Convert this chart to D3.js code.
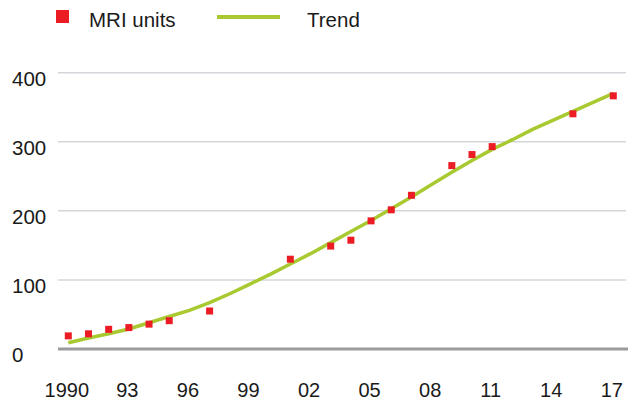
<!DOCTYPE html>
<html>
<head>
<meta charset="utf-8">
<script src="https://cdn.jsdelivr.net/npm/d3@7"></script>
<style>
  html, body { margin: 0; padding: 0; background: #fff; }
  svg { display: block; font-family: "Liberation Sans", Arial, Helvetica, sans-serif; }
</style>
</head>
<body>
<svg id="chart" width="636" height="403"></svg>
<script>
// MRI units installed per year, with fitted trend
const unitYears  = [1990, 1991, 1992, 1993, 1994, 1995, 1997, 2001, 2003, 2004, 2005, 2006, 2007, 2009, 2010, 2011, 2015, 2017];
const unitValues = [19, 22, 28.5, 31, 36, 41, 55, 130, 149, 157.5, 185.5, 201.5, 222.5, 265.5, 281.5, 293, 340.5, 366.5];

const trendYears  = [1990, 1991, 1992, 1993, 1994, 1995, 1996, 1997, 1998, 1999, 2000, 2001, 2002, 2003,
                     2004, 2005, 2006, 2007, 2008, 2009, 2010, 2011, 2012, 2013, 2014, 2015, 2016, 2017];
const trendValues = [9, 16, 22, 29, 38, 47, 56, 67, 80, 94, 108, 123, 138, 154,
                     170, 186, 203, 220, 238, 256, 273, 289, 303, 318, 331, 344, 357, 370];

const xTickYears  = [1990, 1993, 1996, 1999, 2002, 2005, 2008, 2011, 2014, 2017];
const xTickLabels = ["1990", "93", "96", "99", "02", "05", "08", "11", "14", "17"];
const yTicks      = [0, 100, 200, 300, 400];

const legendLabels = ["MRI units", "Trend"];

const RED = "#ec1c24";
const GREEN = "#a8c930";

const svg = d3.select("#chart");

const x = d3.scaleLinear().domain([1990, 2017]).range([68.3, 613.3]);
const y = d3.scaleLinear().domain([0, 400]).range([349, 72.7]);

// horizontal gridlines
svg.append("g")
  .selectAll("line")
  .data(yTicks.filter(d => d > 0))
  .join("line")
  .attr("x1", 58).attr("x2", 626)
  .attr("y1", d => y(d)).attr("y2", d => y(d))
  .attr("stroke", "#d3d6da")
  .attr("stroke-width", 1.5);

// baseline at zero
svg.append("line")
  .attr("x1", 58).attr("x2", 628)
  .attr("y1", y(0)).attr("y2", y(0))
  .attr("stroke", "#9b9b9e")
  .attr("stroke-width", 3);

// y axis labels (left-aligned)
const yAxis = d3.axisLeft(y).tickValues(yTicks).tickSize(0).tickPadding(0);
const gy = svg.append("g").attr("transform", "translate(12,0)").call(yAxis);
gy.select(".domain").remove();
gy.selectAll("text")
  .attr("text-anchor", "start")
  .attr("x", 0)
  .attr("dy", "0.62em")
  .attr("font-size", 20.5)
  .attr("font-family", "\"Liberation Sans\", Arial, sans-serif")
  .attr("fill", "#1a1a1a");

// x axis labels
const xAxis = d3.axisBottom(x).tickValues(xTickYears)
  .tickFormat((d, i) => xTickLabels[i]).tickSize(0).tickPadding(0);
const gx = svg.append("g").attr("transform", "translate(-2,383)").call(xAxis);
gx.select(".domain").remove();
gx.selectAll("text")
  .attr("dy", "0.72em")
  .attr("y", 0)
  .attr("font-size", 20)
  .attr("font-family", "\"Liberation Sans\", Arial, sans-serif")
  .attr("fill", "#1a1a1a");

// trend line
const line = d3.line()
  .x((d, i) => x(trendYears[i]))
  .y(d => y(d));
svg.append("path")
  .datum(trendValues)
  .attr("d", line)
  .attr("fill", "none")
  .attr("stroke", GREEN)
  .attr("stroke-width", 3.5)
  .attr("stroke-linejoin", "round");

// data points
const s = 7;
svg.append("g")
  .selectAll("rect")
  .data(unitValues)
  .join("rect")
  .attr("x", (d, i) => x(unitYears[i]) - s / 2)
  .attr("y", d => y(d) - s / 2)
  .attr("width", s)
  .attr("height", s)
  .attr("fill", RED);

// legend
const legend = svg.append("g");
legend.append("rect")
  .attr("x", 56).attr("y", 10).attr("width", 13).attr("height", 13)
  .attr("fill", RED);
legend.append("text")
  .attr("x", 89).attr("y", 27)
  .attr("font-size", 20.5)
  .attr("fill", "#1a1a1a")
  .text(legendLabels[0]);
legend.append("line")
  .attr("x1", 217).attr("x2", 280)
  .attr("y1", 17).attr("y2", 17)
  .attr("stroke", GREEN)
  .attr("stroke-width", 4);
legend.append("text")
  .attr("x", 307).attr("y", 27)
  .attr("font-size", 20.5)
  .attr("fill", "#1a1a1a")
  .text(legendLabels[1]);
</script>
</body>
</html>
